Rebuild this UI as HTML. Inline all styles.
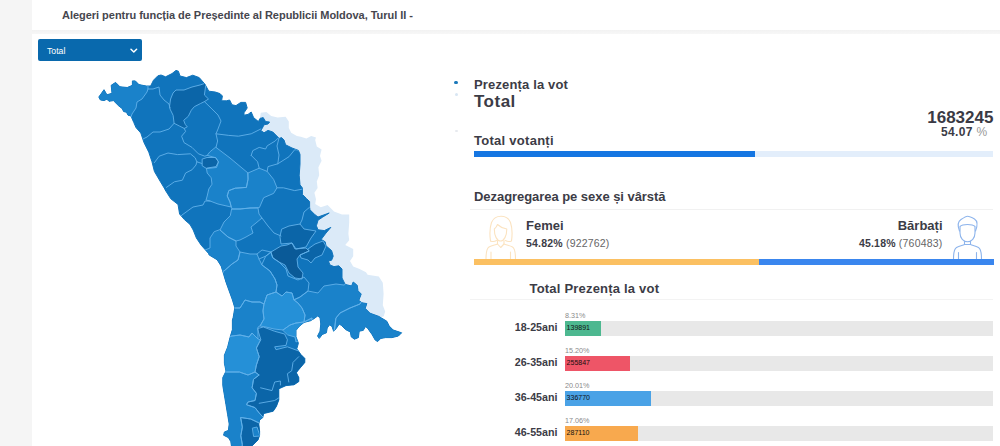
<!DOCTYPE html>
<html><head><meta charset="utf-8">
<style>
*{box-sizing:border-box;margin:0;padding:0}
html,body{width:1000px;height:446px;overflow:hidden;background:#fff;font-family:"Liberation Sans",sans-serif;color:#3c3c46}
.abs{position:absolute}
#left{left:0;top:0;width:32px;height:446px;background:#f5f5f5}
#strip{left:32px;top:29.5px;width:968px;height:4.5px;background:linear-gradient(#f2f2f2,#f7f7f7)}
#title{left:62px;top:10.1px;font-size:11px;font-weight:bold;color:#46464e;white-space:nowrap;letter-spacing:-0.03px}
#sel{left:38px;top:39px;width:104px;height:21.6px;background:#0969ad;border-radius:2px;color:#fff;font-size:8.7px;line-height:24.4px;padding-left:9px}
.b{font-weight:bold}
.t{white-space:nowrap;line-height:1}
.bar{height:6px}
.track{left:565px;width:428px;height:15px;background:#e8e8e8}
.fill{left:565px;height:15px}
.pct{left:565px;font-size:7.2px;color:#8a8a8a}
.val{left:566.6px;font-size:7px;color:#111}
.lab{right:442.5px;font-size:10.7px;font-weight:bold;color:#3c3c46}
</style></head><body>
<div id="left" class="abs"></div>
<div id="strip" class="abs"></div>
<div id="title" class="abs t">Alegeri pentru funcția de Președinte al Republicii Moldova, Turul II -</div>
<div id="sel" class="abs t">Total</div>
<svg class="abs" style="left:130px;top:48px" width="8" height="6" viewBox="0 0 8 6"><path d="M1 1.3 L3.8 4 L6.6 1.3" fill="none" stroke="#fff" stroke-width="1.5" stroke-linecap="round" stroke-linejoin="round"/></svg>

<!-- MAP -->
<svg id="map" class="abs" style="left:0;top:0" width="1000" height="446" viewBox="0 0 1000 446">
<defs><clipPath id="oc"><path d="M98.8 97.0 L101.0 94.0 L104.0 89.7 L106.9 94.8 L112.0 93.3 L111.2 85.3 L115.6 82.4 L120.0 86.8 L127.3 87.5 L132.4 85.3 L132.4 80.9 L135.3 80.9 L138.9 84.6 L146.2 86.0 L150.6 86.0 L153.5 80.2 L157.9 75.8 L161.0 75.0 L165.6 76.8 L172.0 73.6 L176.0 70.4 L178.4 71.2 L180.0 76.0 L186.4 77.6 L192.8 75.2 L199.2 77.6 L204.8 84.0 L208.8 91.2 L215.2 92.0 L220.0 93.6 L222.4 96.0 L221.6 100.8 L226.4 100.8 L229.6 100.0 L232.0 104.8 L236.0 105.6 L240.8 102.4 L245.6 102.4 L247.2 108.0 L244.0 112.8 L244.0 115.2 L248.0 114.4 L251.2 112.0 L253.6 117.6 L258.4 121.6 L260.0 118.4 L263.2 117.6 L265.6 121.6 L269.6 122.0 L268.0 124.0 L264.0 124.8 L262.4 128.0 L260.8 130.4 L264.0 132.8 L268.0 130.4 L272.8 132.0 L276.8 136.0 L279.2 138.4 L281.6 137.6 L284.0 140.0 L285.6 144.8 L292.0 148.0 L298.4 150.4 L300.0 154.4 L300.0 164.0 L299.2 175.2 L300.0 184.8 L302.4 188.0 L302.4 194.4 L306.4 198.4 L309.6 201.6 L309.6 207.2 L310.0 209.8 L314.8 214.6 L318.0 217.0 L329.2 213.0 L322.8 217.0 L318.0 220.2 L316.4 225.8 L318.0 229.8 L324.4 230.6 L330.8 227.4 L326.0 233.0 L321.2 239.4 L325.2 241.8 L326.0 245.8 L331.6 250.6 L333.2 256.2 L331.6 260.2 L328.4 261.0 L330.0 265.0 L334.0 266.6 L338.8 265.8 L342.0 269.0 L342.0 278.0 L345.2 284.4 L351.6 286.0 L353.2 282.0 L357.2 285.2 L358.0 290.8 L361.2 294.0 L358.8 300.4 L362.0 302.8 L366.8 303.6 L365.2 308.4 L370.0 313.2 L378.8 316.4 L386.8 321.2 L389.2 326.0 L393.2 330.0 L401.6 332.8 L398.4 336.0 L392.0 337.6 L385.6 337.6 L380.8 338.4 L377.6 341.6 L375.2 340.0 L372.0 334.4 L368.0 328.8 L365.6 326.4 L363.2 330.4 L359.2 331.2 L358.4 337.6 L354.4 339.2 L351.2 336.8 L350.4 332.0 L345.6 329.6 L341.6 325.6 L339.2 324.0 L336.0 328.8 L333.6 331.2 L332.0 326.4 L329.6 324.8 L327.2 328.0 L326.4 332.8 L322.4 334.4 L319.2 338.4 L317.6 336.0 L320.0 331.2 L320.8 324.0 L320.0 317.6 L317.6 316.0 L314.4 318.4 L310.4 320.8 L304.0 322.4 L299.2 326.4 L296.0 330.4 L296.0 336.8 L298.4 343.2 L296.8 348.8 L300.8 354.4 L304.8 358.4 L304.8 362.4 L300.8 367.2 L297.6 371.0 L296.4 372.8 L298.8 377.6 L298.8 381.6 L294.0 384.8 L286.0 385.6 L278.8 388.8 L278.8 400.0 L276.4 406.4 L273.2 411.2 L263.6 413.6 L262.8 417.6 L259.6 420.0 L258.8 424.0 L259.6 431.2 L259.6 435.2 L258.0 440.0 L254.0 444.0 L250.8 447.0 L231.6 447.0 L230.8 441.6 L228.4 437.6 L223.6 435.2 L224.4 432.0 L228.4 430.4 L229.2 424.0 L227.6 414.4 L226.0 404.8 L224.4 395.2 L222.8 385.6 L222.8 377.6 L226.0 371.2 L224.4 363.2 L224.4 355.2 L227.6 347.2 L230.0 337.6 L232.4 329.6 L232.4 320.0 L233.2 317.4 L234.8 307.8 L232.4 299.8 L229.2 291.0 L226.0 282.2 L223.6 274.2 L221.2 266.2 L217.2 259.8 L209.2 255.0 L208.4 253.2 L201.2 245.2 L196.4 238.0 L193.2 230.0 L190.0 224.4 L184.4 219.6 L179.6 214.0 L178.0 204.4 L170.8 198.8 L165.2 190.0 L164.8 189.0 L160.0 181.0 L154.4 171.4 L152.0 161.8 L148.8 152.2 L144.0 142.6 L140.8 133.0 L136.0 127.6 L133.8 122.5 L130.9 115.9 L128.0 115.2 L126.5 112.3 L123.6 111.5 L122.2 108.6 L118.5 105.7 L113.4 100.6 L109.0 101.3 L106.9 99.2 L104.0 100.6 L100.3 99.9 Z"/></clipPath></defs>
<path d="M260.8 112.8 L266.4 112.0 L271.2 116.0 L277.6 117.6 L285.6 116.8 L288.8 121.6 L288.8 128.0 L291.2 132.8 L296.8 136.0 L300.8 136.8 L306.4 138.4 L311.2 136.0 L316.0 137.6 L315.2 140.0 L316.8 146.4 L321.6 149.6 L320.0 156.0 L321.6 160.8 L318.4 167.2 L319.2 175.2 L316.8 181.6 L317.6 188.0 L314.4 192.8 L316.0 199.2 L315.2 204.0 L320.8 207.2 L327.6 205.0 L334.0 211.4 L342.0 214.6 L349.2 214.6 L349.2 222.6 L348.4 233.8 L349.2 240.2 L345.2 245.0 L353.2 249.0 L353.2 256.2 L350.0 261.0 L353.2 266.6 L359.6 269.0 L366.0 272.2 L367.6 274.8 L378.8 276.4 L382.8 282.8 L383.6 294.0 L382.8 305.2 L385.2 311.6 L383.6 316.4 L380.4 317.2 L372.0 318.0 L350.0 305.0 L330.0 280.0 L315.0 255.0 L300.0 225.0 L292.0 200.0 L285.0 170.0 L280.0 150.0 L265.0 140.0 L255.0 125.0 L259.5 120.5 Z" fill="#dbeaf8"/>
<path d="M98.8 97.0 L101.0 94.0 L104.0 89.7 L106.9 94.8 L112.0 93.3 L111.2 85.3 L115.6 82.4 L120.0 86.8 L127.3 87.5 L132.4 85.3 L132.4 80.9 L135.3 80.9 L138.9 84.6 L146.2 86.0 L150.6 86.0 L153.5 80.2 L157.9 75.8 L161.0 75.0 L165.6 76.8 L172.0 73.6 L176.0 70.4 L178.4 71.2 L180.0 76.0 L186.4 77.6 L192.8 75.2 L199.2 77.6 L204.8 84.0 L208.8 91.2 L215.2 92.0 L220.0 93.6 L222.4 96.0 L221.6 100.8 L226.4 100.8 L229.6 100.0 L232.0 104.8 L236.0 105.6 L240.8 102.4 L245.6 102.4 L247.2 108.0 L244.0 112.8 L244.0 115.2 L248.0 114.4 L251.2 112.0 L253.6 117.6 L258.4 121.6 L260.0 118.4 L263.2 117.6 L265.6 121.6 L269.6 122.0 L268.0 124.0 L264.0 124.8 L262.4 128.0 L260.8 130.4 L264.0 132.8 L268.0 130.4 L272.8 132.0 L276.8 136.0 L279.2 138.4 L281.6 137.6 L284.0 140.0 L285.6 144.8 L292.0 148.0 L298.4 150.4 L300.0 154.4 L300.0 164.0 L299.2 175.2 L300.0 184.8 L302.4 188.0 L302.4 194.4 L306.4 198.4 L309.6 201.6 L309.6 207.2 L310.0 209.8 L314.8 214.6 L318.0 217.0 L329.2 213.0 L322.8 217.0 L318.0 220.2 L316.4 225.8 L318.0 229.8 L324.4 230.6 L330.8 227.4 L326.0 233.0 L321.2 239.4 L325.2 241.8 L326.0 245.8 L331.6 250.6 L333.2 256.2 L331.6 260.2 L328.4 261.0 L330.0 265.0 L334.0 266.6 L338.8 265.8 L342.0 269.0 L342.0 278.0 L345.2 284.4 L351.6 286.0 L353.2 282.0 L357.2 285.2 L358.0 290.8 L361.2 294.0 L358.8 300.4 L362.0 302.8 L366.8 303.6 L365.2 308.4 L370.0 313.2 L378.8 316.4 L386.8 321.2 L389.2 326.0 L393.2 330.0 L401.6 332.8 L398.4 336.0 L392.0 337.6 L385.6 337.6 L380.8 338.4 L377.6 341.6 L375.2 340.0 L372.0 334.4 L368.0 328.8 L365.6 326.4 L363.2 330.4 L359.2 331.2 L358.4 337.6 L354.4 339.2 L351.2 336.8 L350.4 332.0 L345.6 329.6 L341.6 325.6 L339.2 324.0 L336.0 328.8 L333.6 331.2 L332.0 326.4 L329.6 324.8 L327.2 328.0 L326.4 332.8 L322.4 334.4 L319.2 338.4 L317.6 336.0 L320.0 331.2 L320.8 324.0 L320.0 317.6 L317.6 316.0 L314.4 318.4 L310.4 320.8 L304.0 322.4 L299.2 326.4 L296.0 330.4 L296.0 336.8 L298.4 343.2 L296.8 348.8 L300.8 354.4 L304.8 358.4 L304.8 362.4 L300.8 367.2 L297.6 371.0 L296.4 372.8 L298.8 377.6 L298.8 381.6 L294.0 384.8 L286.0 385.6 L278.8 388.8 L278.8 400.0 L276.4 406.4 L273.2 411.2 L263.6 413.6 L262.8 417.6 L259.6 420.0 L258.8 424.0 L259.6 431.2 L259.6 435.2 L258.0 440.0 L254.0 444.0 L250.8 447.0 L231.6 447.0 L230.8 441.6 L228.4 437.6 L223.6 435.2 L224.4 432.0 L228.4 430.4 L229.2 424.0 L227.6 414.4 L226.0 404.8 L224.4 395.2 L222.8 385.6 L222.8 377.6 L226.0 371.2 L224.4 363.2 L224.4 355.2 L227.6 347.2 L230.0 337.6 L232.4 329.6 L232.4 320.0 L233.2 317.4 L234.8 307.8 L232.4 299.8 L229.2 291.0 L226.0 282.2 L223.6 274.2 L221.2 266.2 L217.2 259.8 L209.2 255.0 L208.4 253.2 L201.2 245.2 L196.4 238.0 L193.2 230.0 L190.0 224.4 L184.4 219.6 L179.6 214.0 L178.0 204.4 L170.8 198.8 L165.2 190.0 L164.8 189.0 L160.0 181.0 L154.4 171.4 L152.0 161.8 L148.8 152.2 L144.0 142.6 L140.8 133.0 L136.0 127.6 L133.8 122.5 L130.9 115.9 L128.0 115.2 L126.5 112.3 L123.6 111.5 L122.2 108.6 L118.5 105.7 L113.4 100.6 L109.0 101.3 L106.9 99.2 L104.0 100.6 L100.3 99.9 Z" fill="#1074bc" stroke="#1074bc" stroke-width="1" stroke-linejoin="round"/>
<g clip-path="url(#oc)">
<path d="M148.0 70.0 L148.0 89.0 L147.0 92.0 L142.0 99.0 L137.0 102.0 L136.0 108.0 L132.0 114.0 L130.0 120.0 L90.0 120.0 L90.0 70.0 Z" fill="#1a82ca"/>
<path d="M169.6 106.0 L170.6 99.0 L173.0 93.0 L176.0 90.0 L184.0 90.0 L192.0 87.0 L200.0 85.0 L206.0 83.0 L204.4 95.0 L208.5 99.0 L204.4 101.6 L200.4 103.6 L194.3 106.7 L191.3 110.2 L188.3 116.3 L183.7 120.3 L185.2 124.3 L187.3 126.9 L184.2 128.4 L179.2 125.9 L174.1 123.3 L173.1 115.3 L170.1 109.2 Z" fill="#0b65a8"/>
<path d="M202.5 159.0 L207.0 157.5 L215.5 157.5 L218.5 162.0 L216.5 167.5 L206.5 168.5 L202.5 166.0 Z" fill="#0b65a8"/>
<path d="M216.0 147.4 L230.0 158.0 L242.0 168.0 L248.0 173.0 L248.0 179.4 L246.4 187.4 L235.2 188.2 L228.8 190.6 L227.2 196.0 L230.0 202.0 L231.0 207.0 L218.0 204.0 L210.0 201.0 L206.0 200.0 L207.2 196.0 L208.8 189.0 L212.0 184.2 L211.2 177.8 L207.2 173.0 L206.4 168.2 L216.0 166.6 L218.4 161.8 L216.0 157.8 L207.2 155.4 L209.6 152.2 Z" fill="#1a82ca"/>
<path d="M248.0 173.0 L259.2 168.2 L267.2 171.4 L273.6 179.4 L277.0 187.8 L273.6 193.4 L263.7 197.7 L259.4 207.6 L250.0 208.0 L240.0 209.0 L232.0 209.0 L230.0 202.0 L227.2 196.0 L228.8 190.6 L235.2 188.2 L246.4 187.4 L248.0 179.4 Z" fill="#1a82ca"/>
<path d="M232.0 209.0 L240.0 209.0 L250.0 208.0 L258.0 208.0 L259.0 214.0 L262.0 218.0 L256.0 223.0 L251.0 227.0 L253.0 233.0 L246.0 237.0 L240.0 240.0 L236.0 241.0 L228.0 237.0 L220.0 230.0 L224.0 222.0 L230.0 216.0 Z" fill="#1a82ca"/>
<path d="M220.0 230.0 L228.0 237.0 L236.0 241.0 L236.0 246.0 L240.0 252.0 L238.0 260.0 L232.0 264.0 L224.0 271.0 L215.0 271.0 L205.0 250.0 L210.0 248.0 L210.0 238.0 L214.0 232.0 Z" fill="#1a82ca"/>
<path d="M282.0 229.0 L289.0 226.0 L300.0 224.0 L304.0 229.0 L316.0 231.0 L311.0 238.0 L306.0 247.0 L296.0 249.0 L292.0 243.0 L281.0 244.0 L280.0 237.0 Z" fill="#0b65a8"/>
<path d="M271.0 252.0 L281.0 246.0 L287.0 245.0 L292.0 243.0 L295.0 249.0 L306.0 248.0 L309.0 251.0 L300.0 255.0 L297.0 259.0 L298.0 267.0 L303.0 273.0 L302.0 279.0 L295.0 278.0 L289.0 273.0 L285.0 265.0 L279.0 262.0 L273.0 258.0 Z" fill="#0a5a98"/>
<path d="M308.0 249.0 L315.0 244.0 L323.0 241.0 L326.0 246.0 L322.0 255.0 L315.0 258.0 L311.0 263.0 L308.0 260.0 L301.0 258.0 L300.0 255.0 L309.0 251.0 Z" fill="#0b65a8"/>
<path d="M224.0 271.0 L232.0 264.0 L238.0 260.0 L240.0 252.0 L250.0 254.0 L257.0 254.0 L259.0 259.0 L262.0 265.0 L270.0 271.0 L275.0 279.0 L277.0 285.0 L276.0 292.0 L267.0 295.0 L264.0 304.0 L260.0 302.0 L252.0 302.0 L245.0 300.0 L240.0 308.0 L230.0 308.0 L215.0 290.0 Z" fill="#1a82ca"/>
<path d="M262.0 265.0 L270.0 271.0 L275.0 279.0 L277.0 285.0 L276.0 292.0 L282.0 296.0 L286.0 292.0 L292.0 293.0 L294.0 300.0 L300.0 297.0 L308.0 291.0 L309.0 283.0 L304.0 277.0 L298.0 280.0 L288.0 276.0 L286.0 269.0 L282.0 265.0 L279.0 262.0 L273.0 258.0 L271.0 252.0 L266.0 256.0 Z" fill="#1074bc"/>
<path d="M264.0 304.0 L267.0 295.0 L276.0 292.0 L282.0 296.0 L286.0 292.0 L292.0 293.0 L294.0 300.0 L298.0 303.0 L302.0 308.0 L305.0 315.0 L304.0 322.0 L296.0 323.0 L290.0 325.0 L283.0 330.0 L274.0 329.0 L266.0 327.0 L260.0 326.0 L264.0 319.0 L263.0 311.0 Z" fill="#2590d7"/>
<path d="M283.0 330.0 L290.0 325.0 L296.0 323.0 L304.0 322.0 L312.0 318.0 L312.0 330.0 L300.0 340.0 L296.0 342.0 L295.0 337.0 L288.0 335.0 Z" fill="#2590d7"/>
<path d="M300.0 297.0 L308.0 291.0 L318.0 293.0 L324.0 286.0 L336.0 284.0 L344.0 285.0 L352.0 280.0 L362.0 290.0 L366.0 300.0 L362.0 301.0 L360.0 304.0 L350.0 308.0 L340.0 313.0 L336.0 318.0 L334.0 335.0 L310.0 340.0 L312.0 318.0 L304.0 322.0 L305.0 315.0 L302.0 308.0 L298.0 303.0 L294.0 300.0 Z" fill="#1a82ca"/>
<path d="M336.0 318.0 L340.0 313.0 L350.0 308.0 L360.0 304.0 L362.0 301.0 L368.0 300.0 L375.0 312.0 L392.0 322.0 L405.0 333.0 L395.0 342.0 L370.0 345.0 L345.0 342.0 L334.0 335.0 Z" fill="#1a82ca"/>
<path d="M230.0 308.0 L240.0 308.0 L245.0 300.0 L252.0 302.0 L260.0 302.0 L264.0 304.0 L263.0 311.0 L264.0 319.0 L260.0 326.0 L258.0 327.0 L258.0 339.0 L252.0 333.0 L249.0 337.0 L240.0 335.0 L232.0 336.0 L222.0 338.0 L222.0 310.0 Z" fill="#1a82ca"/>
<path d="M222.0 338.0 L232.0 336.0 L240.0 335.0 L249.0 337.0 L252.0 333.0 L258.0 339.0 L260.6 339.8 L256.4 348.0 L259.2 356.7 L256.4 365.0 L255.0 372.0 L248.0 375.0 L239.4 372.0 L226.7 372.0 L215.0 372.0 L215.0 340.0 Z" fill="#2590d7"/>
<path d="M215.0 372.0 L226.7 372.0 L239.4 372.0 L248.0 375.0 L255.0 372.0 L259.2 375.0 L253.5 379.3 L252.1 387.8 L256.4 393.4 L255.0 400.5 L247.9 402.0 L246.5 404.7 L255.0 407.6 L259.2 413.0 L263.4 417.5 L262.0 424.0 L259.2 423.0 L250.7 419.0 L240.8 417.5 L242.3 427.3 L240.8 435.8 L242.3 444.3 L242.0 450.0 L215.0 450.0 Z" fill="#1a82ca"/>
<path d="M257.8 328.5 L263.4 327.0 L274.7 331.3 L284.6 334.0 L287.4 339.8 L286.0 345.4 L274.7 346.8 L276.0 349.7 L287.4 346.8 L298.7 351.0 L310.0 358.0 L310.0 390.0 L285.0 392.0 L282.0 400.0 L280.0 412.0 L263.4 417.5 L259.2 413.0 L255.0 407.6 L246.5 404.7 L247.9 402.0 L255.0 400.5 L256.4 393.4 L252.1 387.8 L253.5 379.3 L259.2 375.0 L255.0 372.0 L256.4 365.0 L259.2 356.7 L256.4 348.0 L260.6 339.8 Z" fill="#0b65a8"/>
<path d="M240.8 417.5 L250.7 419.0 L259.2 423.0 L262.0 424.0 L264.0 440.0 L255.0 450.0 L242.0 450.0 L242.3 444.3 L240.8 435.8 L242.3 427.3 Z" fill="#0b65a8"/>
<path d="M252.7 428.0 L257.0 427.0 L260.0 436.0 L254.0 436.5 Z" fill="#1a82ca"/>
<path d="M148.0 70.0 L148.0 89.0 L147.0 92.0 L142.0 99.0 L137.0 102.0 L136.0 108.0 L132.0 114.0 L130.0 120.0 L90.0 120.0 L90.0 70.0 Z M169.6 106.0 L170.6 99.0 L173.0 93.0 L176.0 90.0 L184.0 90.0 L192.0 87.0 L200.0 85.0 L206.0 83.0 L204.4 95.0 L208.5 99.0 L204.4 101.6 L200.4 103.6 L194.3 106.7 L191.3 110.2 L188.3 116.3 L183.7 120.3 L185.2 124.3 L187.3 126.9 L184.2 128.4 L179.2 125.9 L174.1 123.3 L173.1 115.3 L170.1 109.2 Z M202.5 159.0 L207.0 157.5 L215.5 157.5 L218.5 162.0 L216.5 167.5 L206.5 168.5 L202.5 166.0 Z M216.0 147.4 L230.0 158.0 L242.0 168.0 L248.0 173.0 L248.0 179.4 L246.4 187.4 L235.2 188.2 L228.8 190.6 L227.2 196.0 L230.0 202.0 L231.0 207.0 L218.0 204.0 L210.0 201.0 L206.0 200.0 L207.2 196.0 L208.8 189.0 L212.0 184.2 L211.2 177.8 L207.2 173.0 L206.4 168.2 L216.0 166.6 L218.4 161.8 L216.0 157.8 L207.2 155.4 L209.6 152.2 Z M248.0 173.0 L259.2 168.2 L267.2 171.4 L273.6 179.4 L277.0 187.8 L273.6 193.4 L263.7 197.7 L259.4 207.6 L250.0 208.0 L240.0 209.0 L232.0 209.0 L230.0 202.0 L227.2 196.0 L228.8 190.6 L235.2 188.2 L246.4 187.4 L248.0 179.4 Z M232.0 209.0 L240.0 209.0 L250.0 208.0 L258.0 208.0 L259.0 214.0 L262.0 218.0 L256.0 223.0 L251.0 227.0 L253.0 233.0 L246.0 237.0 L240.0 240.0 L236.0 241.0 L228.0 237.0 L220.0 230.0 L224.0 222.0 L230.0 216.0 Z M220.0 230.0 L228.0 237.0 L236.0 241.0 L236.0 246.0 L240.0 252.0 L238.0 260.0 L232.0 264.0 L224.0 271.0 L215.0 271.0 L205.0 250.0 L210.0 248.0 L210.0 238.0 L214.0 232.0 Z M282.0 229.0 L289.0 226.0 L300.0 224.0 L304.0 229.0 L316.0 231.0 L311.0 238.0 L306.0 247.0 L296.0 249.0 L292.0 243.0 L281.0 244.0 L280.0 237.0 Z M271.0 252.0 L281.0 246.0 L287.0 245.0 L292.0 243.0 L295.0 249.0 L306.0 248.0 L309.0 251.0 L300.0 255.0 L297.0 259.0 L298.0 267.0 L303.0 273.0 L302.0 279.0 L295.0 278.0 L289.0 273.0 L285.0 265.0 L279.0 262.0 L273.0 258.0 Z M308.0 249.0 L315.0 244.0 L323.0 241.0 L326.0 246.0 L322.0 255.0 L315.0 258.0 L311.0 263.0 L308.0 260.0 L301.0 258.0 L300.0 255.0 L309.0 251.0 Z M224.0 271.0 L232.0 264.0 L238.0 260.0 L240.0 252.0 L250.0 254.0 L257.0 254.0 L259.0 259.0 L262.0 265.0 L270.0 271.0 L275.0 279.0 L277.0 285.0 L276.0 292.0 L267.0 295.0 L264.0 304.0 L260.0 302.0 L252.0 302.0 L245.0 300.0 L240.0 308.0 L230.0 308.0 L215.0 290.0 Z M262.0 265.0 L270.0 271.0 L275.0 279.0 L277.0 285.0 L276.0 292.0 L282.0 296.0 L286.0 292.0 L292.0 293.0 L294.0 300.0 L300.0 297.0 L308.0 291.0 L309.0 283.0 L304.0 277.0 L298.0 280.0 L288.0 276.0 L286.0 269.0 L282.0 265.0 L279.0 262.0 L273.0 258.0 L271.0 252.0 L266.0 256.0 Z M264.0 304.0 L267.0 295.0 L276.0 292.0 L282.0 296.0 L286.0 292.0 L292.0 293.0 L294.0 300.0 L298.0 303.0 L302.0 308.0 L305.0 315.0 L304.0 322.0 L296.0 323.0 L290.0 325.0 L283.0 330.0 L274.0 329.0 L266.0 327.0 L260.0 326.0 L264.0 319.0 L263.0 311.0 Z M283.0 330.0 L290.0 325.0 L296.0 323.0 L304.0 322.0 L312.0 318.0 L312.0 330.0 L300.0 340.0 L296.0 342.0 L295.0 337.0 L288.0 335.0 Z M300.0 297.0 L308.0 291.0 L318.0 293.0 L324.0 286.0 L336.0 284.0 L344.0 285.0 L352.0 280.0 L362.0 290.0 L366.0 300.0 L362.0 301.0 L360.0 304.0 L350.0 308.0 L340.0 313.0 L336.0 318.0 L334.0 335.0 L310.0 340.0 L312.0 318.0 L304.0 322.0 L305.0 315.0 L302.0 308.0 L298.0 303.0 L294.0 300.0 Z M336.0 318.0 L340.0 313.0 L350.0 308.0 L360.0 304.0 L362.0 301.0 L368.0 300.0 L375.0 312.0 L392.0 322.0 L405.0 333.0 L395.0 342.0 L370.0 345.0 L345.0 342.0 L334.0 335.0 Z M230.0 308.0 L240.0 308.0 L245.0 300.0 L252.0 302.0 L260.0 302.0 L264.0 304.0 L263.0 311.0 L264.0 319.0 L260.0 326.0 L258.0 327.0 L258.0 339.0 L252.0 333.0 L249.0 337.0 L240.0 335.0 L232.0 336.0 L222.0 338.0 L222.0 310.0 Z M222.0 338.0 L232.0 336.0 L240.0 335.0 L249.0 337.0 L252.0 333.0 L258.0 339.0 L260.6 339.8 L256.4 348.0 L259.2 356.7 L256.4 365.0 L255.0 372.0 L248.0 375.0 L239.4 372.0 L226.7 372.0 L215.0 372.0 L215.0 340.0 Z M215.0 372.0 L226.7 372.0 L239.4 372.0 L248.0 375.0 L255.0 372.0 L259.2 375.0 L253.5 379.3 L252.1 387.8 L256.4 393.4 L255.0 400.5 L247.9 402.0 L246.5 404.7 L255.0 407.6 L259.2 413.0 L263.4 417.5 L262.0 424.0 L259.2 423.0 L250.7 419.0 L240.8 417.5 L242.3 427.3 L240.8 435.8 L242.3 444.3 L242.0 450.0 L215.0 450.0 Z M257.8 328.5 L263.4 327.0 L274.7 331.3 L284.6 334.0 L287.4 339.8 L286.0 345.4 L274.7 346.8 L276.0 349.7 L287.4 346.8 L298.7 351.0 L310.0 358.0 L310.0 390.0 L285.0 392.0 L282.0 400.0 L280.0 412.0 L263.4 417.5 L259.2 413.0 L255.0 407.6 L246.5 404.7 L247.9 402.0 L255.0 400.5 L256.4 393.4 L252.1 387.8 L253.5 379.3 L259.2 375.0 L255.0 372.0 L256.4 365.0 L259.2 356.7 L256.4 348.0 L260.6 339.8 Z M240.8 417.5 L250.7 419.0 L259.2 423.0 L262.0 424.0 L264.0 440.0 L255.0 450.0 L242.0 450.0 L242.3 444.3 L240.8 435.8 L242.3 427.3 Z M252.7 428.0 L257.0 427.0 L260.0 436.0 L254.0 436.5 Z M148.0 89.0 L153.0 89.0 L159.0 87.0 L160.0 95.0 L164.0 100.0 L169.0 104.0 L170.0 108.0 M143.0 139.0 L147.0 137.0 L153.0 132.0 L160.0 132.0 L169.0 129.0 L174.1 123.3 M184.2 128.4 L185.6 131.4 L181.6 136.2 L184.0 142.6 L192.0 147.4 L198.4 153.8 L204.8 156.2 L207.2 155.4 M204.4 101.6 L212.0 109.0 L218.0 115.0 L221.0 121.0 L218.0 129.0 L216.0 133.8 L217.6 141.0 L216.0 147.4 M216.0 133.8 L228.8 135.4 L238.4 136.2 L251.2 133.8 L260.8 129.0 M154.4 162.6 L159.2 156.2 L168.0 153.0 L177.6 154.6 L190.4 153.8 L195.2 157.8 L196.8 161.8 L201.6 163.4 M166.4 187.4 L174.4 181.8 L182.4 180.2 L185.6 173.0 L192.0 169.8 L196.0 165.0 L196.8 161.8 M180.0 217.0 L182.0 215.0 L193.0 207.0 L203.0 205.0 L205.0 201.0 L210.0 201.0 M251.2 155.4 L252.8 150.6 L259.2 147.4 L265.6 149.0 L267.2 145.8 L275.2 141.0 L280.0 136.2 M251.2 155.4 L257.6 161.8 L259.2 168.2 M267.2 171.4 L268.0 166.6 L277.8 163.8 L289.0 156.7 L294.7 149.7 L299.0 150.0 M277.8 163.8 L279.0 155.0 L277.0 146.0 L279.0 138.0 M277.0 187.8 L283.4 187.8 L294.7 190.6 L303.0 189.0 M262.0 218.0 L268.0 226.0 L274.0 233.0 L281.0 236.0 M300.0 224.0 L302.0 220.0 L304.0 212.0 L311.0 206.0 M257.0 254.0 L262.0 250.0 L271.0 252.0 M259.0 259.0 L266.0 256.0 L271.0 252.0 M260.6 387.8 L272.0 390.6 L274.7 382.0 L280.4 381.0 L280.4 385.0 M259.2 403.3 L274.7 400.5 L279.0 397.7 M298.7 356.7 L293.0 362.4 L291.7 370.8 L287.4 373.7 L288.8 382.0" fill="none" stroke="#62b1ea" stroke-width="0.9" stroke-linejoin="round" stroke-linecap="round"/>
</g>
</svg>


<!-- icons -->
<svg class="abs" style="left:484px;top:214px" width="34" height="46" viewBox="484 214 34 46" fill="none" stroke="#fbe3c0" stroke-width="1.1" stroke-linejoin="round" stroke-linecap="round">
<path d="M490.5 241 C489.5 234 490 227 491.5 222.5 C493.5 217.5 497 216.2 501 216.2 C505 216.2 508.5 217.5 510.5 222.5 C512 227 512.5 234 511.5 241 C509.5 241.8 507 241.5 505.5 240.5"/>
<path d="M490.5 241 C492.5 241.8 495 241.5 496.5 240.5"/>
<path d="M494.3 229 C494.3 236 497 241 500.5 241 C504 241 506.8 236 506.8 229 C504 228.5 500 227 497.5 224.5 C496.8 226.5 495.5 228 494.3 229 Z"/>
<path d="M497.5 240.5 L497.5 244 L500.7 247.5 L504 244 L504 240.5"/>
<path d="M486 259 C486 253 486.5 248.5 489 247 C492 245.5 495 245 497.5 244"/>
<path d="M504 244 C506.5 245 509.5 245.5 512.5 247 C515 248.500 515.500 253 515.500 259"/>
<path d="M491 252 L491 259 M510.5 252 L510.5 259"/>
</svg>
<svg class="abs" style="left:951px;top:214px" width="34" height="46" viewBox="951 214 34 46" fill="none" stroke="#8db4ec" stroke-width="1.1" stroke-linejoin="round" stroke-linecap="round">
<path d="M959.5 231 C957.5 226 958 221.500 961 219.500 C964 217.500 966 216.2 967.5 216.2 C969 216.2 972 217.500 974.5 219 C977.5 221 977.5 226 975.500 231"/>
<path d="M960 226.500 C960 226.500 962 224.500 967.500 224.500 C973 224.500 975 226.500 975 226.500 L975 233 C975 238 971.500 241.800 967.500 241.800 C963.500 241.800 960 238 960 233 Z"/>
<path d="M964.500 241 L964.500 244.500 L970.500 244.500 L970.500 241"/>
<path d="M953.500 259 C953.500 253 954 249 956.500 247.500 C959.500 246 962 245.500 964.500 244.500"/>
<path d="M970.500 244.500 C973 245.500 975.500 246 978.500 247.500 C981 249 981.500 253 981.500 259"/>
<path d="M958.500 252.500 L958.500 259 M976.500 252.500 L976.500 259"/>
</svg>
<!-- legend dots -->
<div class="abs" style="left:454.3px;top:80.6px;width:3.6px;height:3.6px;border-radius:50%;background:#1a78ba"></div>
<div class="abs" style="left:454.6px;top:93.2px;width:3px;height:3px;border-radius:50%;background:#d8e6f3"></div>
<div class="abs" style="left:454.6px;top:130px;width:3px;height:1.6px;border-radius:50%;background:#e6e9ee"></div>

<div class="abs t b" style="left:474px;top:78.2px;font-size:13px;letter-spacing:0.15px">Prezența la vot</div>
<div class="abs t b" style="left:474px;top:92.5px;font-size:17px;letter-spacing:0.5px">Total</div>
<div class="abs t b" style="right:6.6px;top:108.9px;font-size:17px;color:#3a3a44">1683245</div>
<div class="abs t" style="right:12.6px;top:125.8px;font-size:12px;letter-spacing:0.35px"><span class="b">54.07</span> <span style="color:#999">%</span></div>
<div class="abs t b" style="left:474px;top:133.7px;font-size:13px;letter-spacing:0.27px">Total votanți</div>
<div class="abs bar" style="left:474px;top:151px;width:519px;background:#e3eefb"></div>
<div class="abs bar" style="left:474px;top:151px;width:281px;background:#1576e2"></div>

<div class="abs t b" style="left:474px;top:189.9px;font-size:13px;letter-spacing:-0.05px">Dezagregarea pe sexe și vârstă</div>
<div class="abs" style="left:470px;top:209px;width:523px;height:1px;background:#f1f1f1"></div>

<div class="abs t b" style="left:526px;top:219.2px;font-size:13px">Femei</div>
<div class="abs t" style="left:526px;top:238.2px;font-size:10.5px;letter-spacing:0.2px"><span class="b">54.82%</span> <span style="color:#666">(922762)</span></div>
<div class="abs t b" style="right:57.5px;top:219.2px;font-size:13px">Bărbați</div>
<div class="abs t" style="right:57.5px;top:238.2px;font-size:10.5px;letter-spacing:0.2px"><span class="b">45.18%</span> <span style="color:#666">(760483)</span></div>
<div class="abs bar" style="left:474px;top:259px;width:286px;background:#fbc062"></div>
<div class="abs bar" style="left:759px;top:259px;width:235px;background:#3a86ee"></div>

<div class="abs t b" style="left:529.5px;top:282px;font-size:13px;letter-spacing:0.2px">Total Prezența la vot</div>
<div class="abs" style="left:470px;top:299px;width:523px;height:1px;background:#f3f3f3"></div>

<div class="abs t pct" style="top:311.7px">8.31%</div>
<div class="abs track" style="top:321px"></div><div class="abs fill" style="top:321px;width:35.5px;background:#4db890"></div>
<div class="abs t val" style="top:323.6px">139891</div>
<div class="abs t lab" style="top:322.1px">18-25ani</div>

<div class="abs t pct" style="top:346.7px">15.20%</div>
<div class="abs track" style="top:356px"></div><div class="abs fill" style="top:356px;width:64.5px;background:#ee5567"></div>
<div class="abs t val" style="top:358.6px">255847</div>
<div class="abs t lab" style="top:357.1px">26-35ani</div>

<div class="abs t pct" style="top:381.7px">20.01%</div>
<div class="abs track" style="top:391px"></div><div class="abs fill" style="top:391px;width:85.5px;background:#4aa2e6"></div>
<div class="abs t val" style="top:393.6px">336770</div>
<div class="abs t lab" style="top:392.1px">36-45ani</div>

<div class="abs t pct" style="top:416.7px">17.06%</div>
<div class="abs track" style="top:426px"></div><div class="abs fill" style="top:426px;width:72.5px;background:#f8a94e"></div>
<div class="abs t val" style="top:428.6px">287110</div>
<div class="abs t lab" style="top:427.1px">46-55ani</div>
</body></html>
